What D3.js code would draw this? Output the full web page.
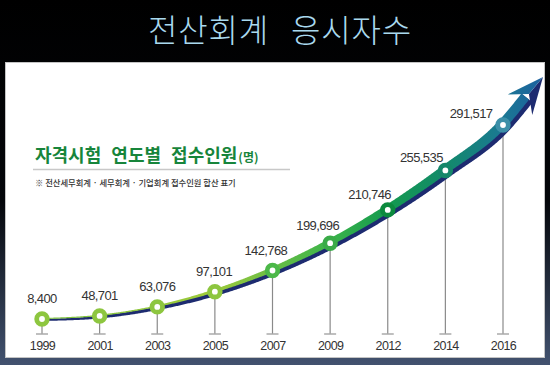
<!DOCTYPE html>
<html><head><meta charset="utf-8">
<script src="https://cdn.jsdelivr.net/npm/d3@7"></script>
<style>
html,body{margin:0;padding:0;background:#000;}
svg{display:block;}
</style></head>
<body>
<script>
// ---- data ----
const years = ["1999","2001","2003","2005","2007","2009","2012","2014","2016"];
const applicants = [8400, 48701, 63076, 97101, 142768, 199696, 210746, 255535, 291517];
const titleWords = ["전산회계", "응시자수"];
const subtitleText = "자격시험 연도별 접수인원";
const unitText = "(명)";
const noteText = "※ 전산세무회계 · 세무회계 · 기업회계 접수인원 합산 표기";

const W = 550, H = 365;
const svg = d3.select("body").append("svg").attr("width", W).attr("height", H);
const defs = svg.append("defs");

// background gradient
const bg = defs.append("linearGradient").attr("id","bg").attr("x1",0).attr("y1",0).attr("x2",0).attr("y2",1);
bg.append("stop").attr("offset","0%").attr("stop-color","#000");
bg.append("stop").attr("offset","55%").attr("stop-color","#04060a");
bg.append("stop").attr("offset","100%").attr("stop-color","#42526f");
svg.append("rect").attr("width",W).attr("height",H).attr("fill","url(#bg)");

// title
const title = svg.append("text").attr("x",280).attr("y",42).attr("text-anchor","middle")
  .attr("font-family","'Noto Sans CJK KR','Noto Sans',sans-serif").attr("font-weight",300)
  .attr("font-size",32).attr("letter-spacing","0.8px").attr("fill","#a9d9ee");
title.append("tspan").text(titleWords[0]);
title.append("tspan").attr("dx",22).text(titleWords[1]);

// panel
svg.append("rect").attr("x",5.5).attr("y",62.5).attr("width",539).attr("height",295)
  .attr("fill","#fff").attr("stroke","#c4c4c4").attr("stroke-width",1);

// subtitle
const sub = svg.append("text").attr("x",35).attr("y",162)
  .attr("font-family","'Noto Sans CJK KR',sans-serif").attr("font-weight",700)
  .attr("fill","#17853b").attr("font-size",18).attr("word-spacing","6px");
sub.append("tspan").text(subtitleText);
sub.append("tspan").attr("font-size",12).attr("dx",1).text(unitText);
svg.append("line").attr("x1",33).attr("x2",290).attr("y1",169.5).attr("y2",169.5)
  .attr("stroke","#c8c8c8").attr("stroke-width",1.5);
svg.append("text").attr("x",35).attr("y",185.5)
  .attr("font-family","'Noto Sans CJK KR',sans-serif").attr("font-size",8.3)
  .attr("font-weight",500).attr("fill","#333").text(noteText);

// scales: x by year, height by the rank of each year's count on a growth (power) scale
const x = d3.scalePoint().domain(years).range([42, 503]);
const order = applicants.map(v => d3.sort(applicants).indexOf(v));
const y = d3.scalePow().exponent(2).domain([0, applicants.length-1]).range([319, 125]);
const pts = years.map((yr,i)=>[x(yr), y(order[i])]);

// stems
const baseY = 334;
svg.append("g").selectAll("line").data(pts).join("line")
  .attr("x1",d=>d[0]).attr("x2",d=>d[0]).attr("y1",d=>d[1]).attr("y2",baseY)
  .attr("stroke","#8a8a8a").attr("stroke-width",1.2);
svg.append("g").selectAll("line").data(pts).join("line")
  .attr("x1",d=>d[0]-6).attr("x2",d=>d[0]+6).attr("y1",baseY).attr("y2",baseY)
  .attr("stroke","#aaa").attr("stroke-width",1.5);

// axis labels
const axis = svg.append("g").attr("transform",`translate(0,${baseY+4})`)
  .call(d3.axisBottom(x).tickSize(0).tickPadding(3));
axis.select(".domain").remove();
axis.selectAll("text").attr("font-family","'Liberation Sans',Arial,sans-serif")
  .attr("font-size",12.5).attr("fill","#333").attr("letter-spacing","-0.6px");

// arrow geometry
const last = pts[pts.length-1];
const tip = [last[0]+40, last[1]-48];
const dx0 = tip[0]-last[0], dy0 = tip[1]-last[1], dl = Math.hypot(dx0,dy0);
const dir = [dx0/dl, dy0/dl], nrm = [-dir[1], dir[0]];
const notch = [tip[0]-dir[0]*26, tip[1]-dir[1]*26];
const line = d3.line().curve(d3.curveMonotoneX);
const guide = svg.append("path").attr("d", line(pts.concat([notch]))).attr("fill","none").attr("stroke","none");
const gnode = guide.node();
const L = gnode.getTotalLength();
const wS = d3.scaleLinear().domain([0,0.2,0.35,0.5,0.72,0.93,1]).range([2,3,5.5,8,10.5,12,12]).clamp(true);
const shS = d3.scaleLinear().domain([0,0.3,1]).range([1.5,3,3.8]);
const up=[], lo=[], nup=[], nlo=[];
for(let s=0; s<=L; s+=1){
  const p = gnode.getPointAtLength(s);
  const a = gnode.getPointAtLength(Math.max(0,s-1)), b = gnode.getPointAtLength(Math.min(L,s+1));
  let tx=b.x-a.x, ty=b.y-a.y; const tl=Math.hypot(tx,ty)||1; tx/=tl; ty/=tl;
  const nx=-ty, ny=tx;
  const w=wS(s/L), sh=shS(s/L);
  up.push([p.x-nx*w/2, p.y-ny*w/2]);
  lo.push([p.x+nx*(w/2-sh*0.6), p.y+ny*(w/2-sh*0.6)]);
  nup.push([p.x-nx*(w/2-1), p.y-ny*(w/2-1)]);
  nlo.push([p.x+nx*(w/2+sh*0.6), p.y+ny*(w/2+sh*0.6)]);
}
const grad = defs.append("linearGradient").attr("id","band").attr("gradientUnits","userSpaceOnUse")
  .attr("x1",42).attr("y1",0).attr("x2",545).attr("y2",0);
[[0,"#7cc242"],[0.34,"#9fcb3b"],[0.455,"#6cbd45"],[0.57,"#3db54a"],[0.685,"#149a4f"],[0.8,"#138a6a"],[0.915,"#1a7893"],[1,"#1d5fa0"]]
  .forEach(([o,c])=>grad.append("stop").attr("offset",o).attr("stop-color",c));
const navy = "#1d2b70";
svg.append("path").attr("d", "M"+nup.map(p=>p.join(",")).join("L")+"L"+nlo.reverse().map(p=>p.join(",")).join("L")+"Z").attr("fill",navy);
svg.append("path").attr("d", "M"+up.map(p=>p.join(",")).join("L")+"L"+lo.reverse().map(p=>p.join(",")).join("L")+"Z").attr("fill","url(#band)");
// arrowhead
const back = 36, half = 16;
const lb = [tip[0]-dir[0]*back - nrm[0]*half, tip[1]-dir[1]*back - nrm[1]*half];
const rb = [tip[0]-dir[0]*back + nrm[0]*half, tip[1]-dir[1]*back + nrm[1]*half];
const nt = [tip[0]-dir[0]*22, tip[1]-dir[1]*22];
svg.append("path").attr("d",`M${tip}L${nt}L${rb}Z`).attr("fill",navy);
svg.append("path").attr("d",`M${tip}L${lb}L${nt}Z`).attr("fill","url(#band)");

// rings
const ringColor = d3.scaleLinear().domain([0,3,4,5,6,7,8])
  .range(["#8dc63f","#8dc63f","#4cb848","#3aab48","#0c8a3e","#15876a","#3c8fa8"]);
svg.append("g").selectAll("circle").data(pts).join("circle")
  .attr("cx",d=>d[0]).attr("cy",d=>d[1]).attr("r",5.3)
  .attr("fill","#fff").attr("stroke",(d,i)=>ringColor(i)).attr("stroke-width",4.8);

// value labels
const fmt = d3.format(",");
const slope = i => {
  const a = pts[Math.max(0,i-1)], b = pts[Math.min(pts.length-1,i+1)];
  return (a[1]-b[1])/(b[0]-a[0]);
};
svg.append("g").selectAll("text").data(pts).join("text")
  .attr("x",(d,i)=> d[0] - Math.max(0, slope(i)-0.3)*55 - (i===pts.length-1 ? 5 : 0))
  .attr("y",(d,i)=> d[1] - 16 + Math.max(0, slope(i)-0.4)*22)
  .attr("text-anchor","middle").attr("font-family","'Liberation Sans',Arial,sans-serif")
  .attr("font-size",13).attr("letter-spacing","-0.6px").attr("fill","#333")
  .text((d,i)=>fmt(applicants[i]));
</script>
</body></html>
